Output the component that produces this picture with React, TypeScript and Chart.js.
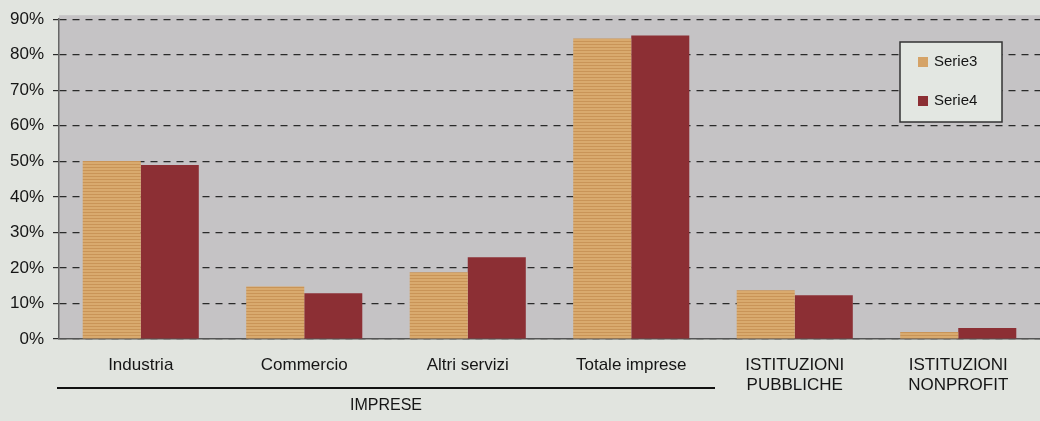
import React, { useEffect, useRef } from "react";
import { Chart, registerables } from "chart.js";

Chart.register(...registerables);

const categories: (string | string[])[] = [
  "Industria",
  "Commercio",
  "Altri servizi",
  "Totale imprese",
  ["ISTITUZIONI", "PUBBLICHE"],
  ["ISTITUZIONI", "NONPROFIT"],
];
const serie3 = [50.1, 14.8, 18.8, 84.6, 13.7, 2.0];
const serie4 = [49.0, 12.9, 23.0, 85.4, 12.3, 3.1];
const seriesLabels = ["Serie3", "Serie4"];
const groupLabel = "IMPRESE";
const groupSpan = [0, 3];

const PAGE_BG = "#e1e4df";
const PLOT_BG = "#c5c3c5";
const ORANGE = "#d5a367";
const RED = "#8c2f34";
const FONT = "'Liberation Sans', Arial, sans-serif";

function makeStripes(): CanvasPattern | string {
  const c = document.createElement("canvas");
  c.width = 4;
  c.height = 3;
  const g = c.getContext("2d");
  if (!g) return ORANGE;
  g.fillStyle = "#d9aa6e";
  g.fillRect(0, 0, 4, 3);
  g.fillStyle = "#c99457";
  g.fillRect(0, 2, 4, 1);
  const p = g.createPattern(c, "repeat");
  return p || ORANGE;
}

const bgPlugin = {
  id: "bgPlugin",
  beforeDraw(chart: any) {
    const { ctx, chartArea } = chart;
    ctx.save();
    ctx.fillStyle = PAGE_BG;
    ctx.fillRect(0, 0, chart.width, chart.height);
    ctx.fillStyle = PLOT_BG;
    ctx.fillRect(chartArea.left, chartArea.top - 4, chartArea.right - chartArea.left, chartArea.bottom - chartArea.top + 4);
    ctx.restore();
  },
};

const groupPlugin = {
  id: "groupPlugin",
  afterDraw(chart: any) {
    const { ctx } = chart;
    const x = chart.scales.x;
    const half = (x.getPixelForValue(1) - x.getPixelForValue(0)) / 2;
    const x0 = x.getPixelForValue(groupSpan[0]) - half - 2;
    const x1 = x.getPixelForValue(groupSpan[1]) + half + 2;
    ctx.save();
    ctx.strokeStyle = "#111";
    ctx.lineWidth = 2;
    ctx.beginPath();
    ctx.moveTo(x0, 388);
    ctx.lineTo(x1, 388);
    ctx.stroke();
    ctx.fillStyle = "#151515";
    ctx.font = `16px ${FONT}`;
    ctx.textAlign = "center";
    ctx.textBaseline = "middle";
    ctx.fillText(groupLabel, (x0 + x1) / 2, 406);
    ctx.restore();
  },
};

const legendPlugin = {
  id: "legendBox",
  afterDraw(chart: any) {
    const { ctx } = chart;
    const bx = 900, by = 42, bw = 102, bh = 80;
    ctx.save();
    ctx.fillStyle = "#e3e7e2";
    ctx.fillRect(bx, by, bw, bh);
    ctx.strokeStyle = "#333";
    ctx.lineWidth = 1.5;
    ctx.strokeRect(bx, by, bw, bh);
    ctx.font = `15px ${FONT}`;
    ctx.textBaseline = "middle";
    ctx.textAlign = "left";
    const ys = [62, 101];
    chart.data.datasets.forEach((ds: any, i: number) => {
      ctx.fillStyle = i === 0 ? ORANGE : RED;
      ctx.fillRect(918, ys[i] - 5, 10, 10);
      ctx.fillStyle = "#151515";
      ctx.fillText(ds.label, 934, ys[i]);
    });
    ctx.restore();
  },
};

export default function App() {
  const ref = useRef<HTMLCanvasElement>(null);
  useEffect(() => {
    document.body.style.margin = "0";
    if (!ref.current) return;
    const chart = new Chart(ref.current, {
      type: "bar",
      data: {
        labels: categories,
        datasets: [
          { label: seriesLabels[0], data: serie3, backgroundColor: makeStripes() as any, borderWidth: 0 },
          { label: seriesLabels[1], data: serie4, backgroundColor: RED, borderWidth: 0 },
        ],
      },
      options: {
        animation: false,
        responsive: false,
        maintainAspectRatio: false,
        layout: { padding: { top: 18, right: 0, bottom: 0, left: 0 } },
        plugins: { legend: { display: false }, tooltip: { enabled: false } },
        datasets: { bar: { barPercentage: 1, categoryPercentage: 0.71 } },
        scales: {
          x: {
            grid: { display: false, drawTicks: false },
            border: { display: true, color: "#555", width: 1.5 },
            ticks: { color: "#151515", font: { family: FONT, size: 17 }, padding: 16, maxRotation: 0, autoSkip: false },
            afterFit(scale: any) { scale.height = 82; },
          },
          y: {
            min: 0,
            max: 90,
            grid: { color: "#2a2a2a", lineWidth: 1.2, drawTicks: true, tickLength: 6 },
            border: { display: true, color: "#666", width: 1.5, dash: [7, 6] },
            ticks: {
              stepSize: 10,
              color: "#151515",
              font: { family: FONT, size: 17 },
              padding: 9,
              callback: (v: any) => `${v}%`,
            },
            afterFit(scale: any) { scale.width = 59; },
          },
        },
      },
      plugins: [bgPlugin, groupPlugin, legendPlugin],
    });
    return () => chart.destroy();
  }, []);
  return (
    <div style={{ width: 1040, height: 421 }}>
      <canvas ref={ref} width={1040} height={421} style={{ display: "block" }} />
    </div>
  );
}
